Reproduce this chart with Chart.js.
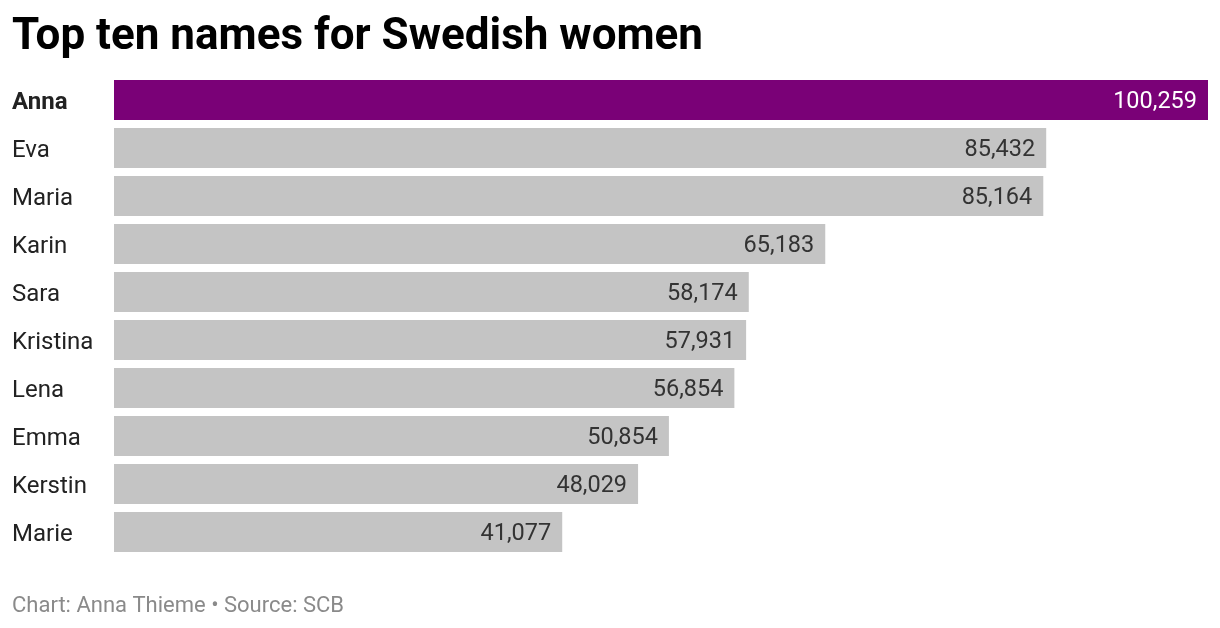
<!DOCTYPE html>
<html>
<head>
<meta charset="utf-8">
<script src="https://cdn.jsdelivr.net/npm/chart.js@4"></script>
<style>
  html, body { margin: 0; padding: 0; background: #fff; }
  #wrap { width: 1220px; height: 628px; position: relative; }
</style>
</head>
<body>
<div id="wrap"><canvas id="c" width="1220" height="628"></canvas></div>
<script>
const names = ["Anna", "Eva", "Maria", "Karin", "Sara", "Kristina", "Lena", "Emma", "Kerstin", "Marie"];
const counts = [100259, 85432, 85164, 65183, 58174, 57931, 56854, 50854, 48029, 41077];
const highlightName = "Anna";

const purple = "#7a0177";
const grey = "#c4c4c4";

const valueLabels = {
  id: "valueLabels",
  afterDatasetsDraw(chart) {
    const ctx = chart.ctx;
    const meta = chart.getDatasetMeta(0);
    ctx.save();
    ctx.font = "23.5px Roboto";
    ctx.textAlign = "right";
    ctx.textBaseline = "middle";
    meta.data.forEach((bar, i) => {
      const hi = names[i] === highlightName;
      ctx.fillStyle = hi ? "#ffffff" : "#333333";
      ctx.fillText(counts[i].toLocaleString("en-US"), bar.x - 11, bar.y + 2.5);
    });
    ctx.restore();
  }
};

new Chart(document.getElementById("c"), {
  type: "bar",
  data: {
    labels: names,
    datasets: [{
      data: counts,
      backgroundColor: names.map(n => n === highlightName ? purple : grey),
      borderWidth: 0,
      barPercentage: 40 / 48,
      categoryPercentage: 1.0
    }]
  },
  options: {
    indexAxis: "y",
    responsive: false,
    animation: false,
    devicePixelRatio: 1,
    layout: { padding: { left: 12, right: 12, top: 0, bottom: 0 } },
    scales: {
      x: { display: false, min: 0, max: 100259 },
      y: {
        grid: { display: false },
        border: { display: false },
        afterFit(s) { s.width = 102; },
        ticks: {
          crossAlign: "far",
          padding: 0,
          labelOffset: 2.5,
          color: "#222222",
          font: (c) => ({
            family: "Roboto",
            size: 24,
            weight: names[c.index] === highlightName ? "bold" : "normal"
          })
        }
      }
    },
    plugins: {
      legend: { display: false },
      tooltip: { enabled: false },
      title: {
        display: true,
        text: "Top ten names for Swedish women",
        align: "start",
        color: "#000000",
        font: { family: "Roboto", size: 44, weight: "bold", lineHeight: 1.2 },
        padding: { top: 12, bottom: 11.2 }
      },
      subtitle: {
        display: true,
        position: "bottom",
        text: "Chart: Anna Thieme \u2022 Source: SCB",
        align: "start",
        color: "#8a8a8a",
        font: { family: "Roboto", size: 22, weight: "normal", lineHeight: 1.2 },
        padding: { top: 36.8, bottom: 8.8 }
      }
    }
  },
  plugins: [valueLabels]
});
</script>
</body>
</html>
